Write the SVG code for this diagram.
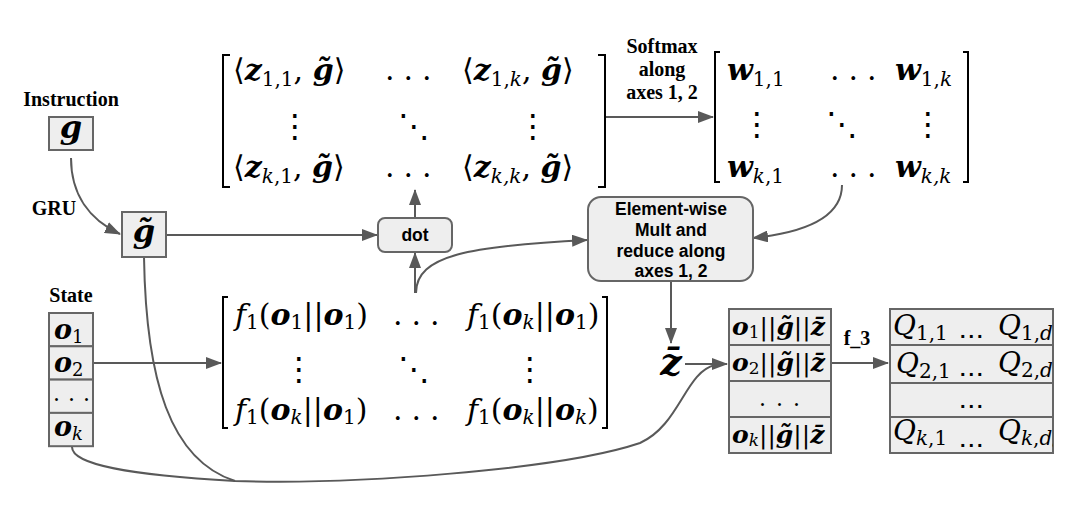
<svg xmlns="http://www.w3.org/2000/svg" width="1088" height="511" viewBox="0 0 1088 511">
<defs>
<marker id="ah" viewBox="0 0 16 12" refX="15" refY="6" markerWidth="16" markerHeight="12" markerUnits="userSpaceOnUse" orient="auto">
<path d="M0,0 L16,6 L0,12 z" fill="#595959"/>
</marker>
<clipPath id="qclip"><rect x="890" y="300" width="163" height="160"/></clipPath>
</defs>
<style>
.lbl{font-family:"Liberation Serif",serif;font-weight:bold;font-size:20px;fill:#000;text-anchor:middle}
.box{fill:#eeeeee;stroke:#666;stroke-width:2}
.bt{font-family:"Liberation Sans",Arial,sans-serif;font-weight:bold;font-size:17.5px;text-anchor:middle;fill:#000}
.m{font-family:"DejaVu Serif",serif;font-size:30px;fill:#000}
.bi{font-weight:bold;font-style:italic}
.it{font-style:italic}
.s{font-size:20px}
.dd{font-family:"DejaVu Sans",sans-serif;font-size:32px;text-anchor:middle}
.ln{fill:none;stroke:#595959;stroke-width:2}
.br{fill:none;stroke:#000;stroke-width:2}
.qd{font-family:"Liberation Sans",sans-serif;font-weight:bold;font-size:20px;letter-spacing:3px}
.cc{font-size:25px}
</style>

<g id="connectors">
<path class="ln" d="M71,158 C71,195 90,220 120,234" marker-end="url(#ah)"/>
<path class="ln" d="M166,235 H377" marker-end="url(#ah)"/>
<path class="ln" d="M415,218 V190" marker-end="url(#ah)"/>
<path class="ln" d="M415,293 V253" marker-end="url(#ah)"/>
<path class="ln" d="M416,293 C416,255 470,246 587,240" marker-end="url(#ah)"/>
<path class="ln" d="M606,117 H713" marker-end="url(#ah)"/>
<path class="ln" d="M842,185 C842,215 810,232 753,238" marker-end="url(#ah)"/>
<path class="ln" d="M671,281 V343" marker-end="url(#ah)"/>
<path class="ln" d="M685,364 H727" marker-end="url(#ah)"/>
<path class="ln" d="M93,363 H221" marker-end="url(#ah)"/>
<path class="ln" d="M831,363 H888" marker-end="url(#ah)"/>
<path class="ln" d="M144,257 C146,380 170,460 235,481 C350,485 560,470 640,443 C680,425 685,372 715,365"/>
<path class="ln" d="M72,447 C72,465 130,475 235,481"/>
</g>

<g id="instruction">
<text class="lbl" x="71" y="106">Instruction</text>
<rect class="box" x="49" y="117" width="44" height="33"/>
<text class="m bi" x="71" y="138" text-anchor="middle" style="font-size:32px">g</text>
</g>

<g id="gru-label">
<text class="lbl" x="54" y="215">GRU</text>
</g>

<g id="gtilde">
<rect class="box" x="122" y="212" width="44" height="45"/>
<text class="m bi" x="144" y="242" text-anchor="middle" style="font-size:32px">g̃</text>
</g>

<g id="state">
<text class="lbl" x="71" y="302">State</text>
<rect class="box" x="49" y="313" width="44" height="33.3"/>
<rect class="box" x="49" y="346.3" width="44" height="33.3"/>
<rect class="box" x="49" y="379.6" width="44" height="33.3"/>
<rect class="box" x="49" y="412.9" width="44" height="33.3"/>
<text class="m" x="54" y="339" style="font-size:27px"><tspan class="bi">o</tspan><tspan font-size="18" dy="4">1</tspan></text>
<text class="m" x="54" y="372" style="font-size:27px"><tspan class="bi">o</tspan><tspan font-size="18" dy="4">2</tspan></text>
<text class="m" x="53" y="401" style="font-size:22px" letter-spacing="8">...</text>
<text class="m" x="54" y="436" style="font-size:27px"><tspan class="bi">o</tspan><tspan class="it" font-size="18" dy="4">k</tspan></text>
</g>

<g id="dot">
<rect class="box" x="378" y="218" width="74" height="34" rx="7"/>
<text class="bt" x="415" y="241">dot</text>
</g>

<g id="elementwise">
<rect class="box" x="588" y="197" width="165" height="84" rx="13"/>
<text class="bt" x="671" y="215">Element-wise</text>
<text class="bt" x="671" y="236">Mult and</text>
<text class="bt" x="671" y="257">reduce along</text>
<text class="bt" x="671" y="277">axes 1, 2</text>
</g>

<g id="softmax-label">
<text class="lbl" x="662" y="53">Softmax</text>
<text class="lbl" x="662" y="76">along</text>
<text class="lbl" x="662" y="99">axes 1, 2</text>
</g>

<g id="matrix-z">
<path class="br" d="M230,55 H223 V187 H230"/>
<path class="br" d="M598,55 H605 V187 H598"/>
<text class="m" x="233" y="80">⟨<tspan class="bi">z</tspan><tspan class="s" dy="6">1,1</tspan><tspan dy="-6">, </tspan><tspan class="bi">g̃</tspan>⟩</text>
<text class="m" x="385" y="80" letter-spacing="9">...</text>
<text class="m" x="462" y="80">⟨<tspan class="bi">z</tspan><tspan class="s" dy="6">1,<tspan class="it">k</tspan></tspan><tspan dy="-6">, </tspan><tspan class="bi">g̃</tspan>⟩</text>
<text class="dd" x="295" y="137">⋮</text>
<text class="dd" x="414" y="137">⋱</text>
<text class="dd" x="533" y="137">⋮</text>
<text class="m" x="233" y="177">⟨<tspan class="bi">z</tspan><tspan class="s" dy="6"><tspan class="it">k</tspan>,1</tspan><tspan dy="-6">, </tspan><tspan class="bi">g̃</tspan>⟩</text>
<text class="m" x="385" y="177" letter-spacing="9">...</text>
<text class="m" x="462" y="177">⟨<tspan class="bi">z</tspan><tspan class="s it" dy="6">k,k</tspan><tspan dy="-6">, </tspan><tspan class="bi">g̃</tspan>⟩</text>
</g>

<g id="matrix-w">
<path class="br" d="M720,52 H715 V182 H720"/>
<path class="br" d="M963,52 H968 V182 H963"/>
<text class="m" x="727" y="80"><tspan class="bi">w</tspan><tspan class="s" dy="6">1,1</tspan></text>
<text class="m" x="830" y="80" letter-spacing="9">...</text>
<text class="m" x="895" y="80"><tspan class="bi">w</tspan><tspan class="s" dy="6">1,<tspan class="it">k</tspan></tspan></text>
<text class="dd" x="757" y="135">⋮</text>
<text class="dd" x="842" y="135">⋱</text>
<text class="dd" x="928" y="135">⋮</text>
<text class="m" x="727" y="177"><tspan class="bi">w</tspan><tspan class="s" dy="6"><tspan class="it">k</tspan>,1</tspan></text>
<text class="m" x="830" y="177" letter-spacing="9">...</text>
<text class="m" x="895" y="177"><tspan class="bi">w</tspan><tspan class="s it" dy="6">k,k</tspan></text>
</g>

<g id="matrix-f">
<path class="br" d="M228,297 H223 V428 H228"/>
<path class="br" d="M602,297 H607 V428 H602"/>
<text class="m" x="235" y="325"><tspan class="it">f</tspan><tspan class="s" dy="4">1</tspan><tspan dy="-4">(</tspan><tspan class="bi">o</tspan><tspan class="s" dy="4">1</tspan><tspan dy="-4">||</tspan><tspan class="bi">o</tspan><tspan class="s" dy="4">1</tspan><tspan dy="-4">)</tspan></text>
<text class="m" x="393" y="325" letter-spacing="9">...</text>
<text class="m" x="467" y="325"><tspan class="it">f</tspan><tspan class="s" dy="4">1</tspan><tspan dy="-4">(</tspan><tspan class="bi">o</tspan><tspan class="s it" dy="4">k</tspan><tspan dy="-4">||</tspan><tspan class="bi">o</tspan><tspan class="s" dy="4">1</tspan><tspan dy="-4">)</tspan></text>
<text class="dd" x="299" y="380">⋮</text>
<text class="dd" x="414" y="380">⋱</text>
<text class="dd" x="530" y="380">⋮</text>
<text class="m" x="235" y="420"><tspan class="it">f</tspan><tspan class="s" dy="4">1</tspan><tspan dy="-4">(</tspan><tspan class="bi">o</tspan><tspan class="s it" dy="4">k</tspan><tspan dy="-4">||</tspan><tspan class="bi">o</tspan><tspan class="s" dy="4">1</tspan><tspan dy="-4">)</tspan></text>
<text class="m" x="393" y="420" letter-spacing="9">...</text>
<text class="m" x="467" y="420"><tspan class="it">f</tspan><tspan class="s" dy="4">1</tspan><tspan dy="-4">(</tspan><tspan class="bi">o</tspan><tspan class="s it" dy="4">k</tspan><tspan dy="-4">||</tspan><tspan class="bi">o</tspan><tspan class="s it" dy="4">k</tspan><tspan dy="-4">)</tspan></text>
</g>

<g id="zbar">
<text class="m bi" x="671" y="375" text-anchor="middle" style="font-size:38px">z̄</text>
</g>

<g id="concat">
<rect class="box" x="729" y="309" width="102" height="36"/>
<rect class="box" x="729" y="345" width="102" height="36"/>
<rect class="box" x="729" y="381" width="102" height="36"/>
<rect class="box" x="729" y="417" width="102" height="36"/>
<text class="m cc" x="732" y="335"><tspan class="bi">o</tspan><tspan font-size="17" dy="3">1</tspan><tspan dy="-3">||</tspan><tspan class="bi">g̃</tspan>||<tspan class="bi">z̄</tspan></text>
<text class="m cc" x="732" y="371"><tspan class="bi">o</tspan><tspan font-size="17" dy="3">2</tspan><tspan dy="-3">||</tspan><tspan class="bi">g̃</tspan>||<tspan class="bi">z̄</tspan></text>
<text class="m" x="759" y="406" style="font-size:22px" letter-spacing="10">...</text>
<text class="m cc" x="732" y="443"><tspan class="bi">o</tspan><tspan class="it" font-size="17" dy="3">k</tspan><tspan dy="-3">||</tspan><tspan class="bi">g̃</tspan>||<tspan class="bi">z̄</tspan></text>
</g>

<g id="f3-label">
<text class="lbl" x="857" y="345">f_3</text>
</g>

<g id="qvalues">
<rect class="box" x="890" y="309" width="163" height="36"/>
<rect class="box" x="890" y="345" width="163" height="38"/>
<rect class="box" x="890" y="383" width="163" height="34"/>
<rect class="box" x="890" y="417" width="163" height="36"/>
<g clip-path="url(#qclip)">
<text class="m it" x="893" y="335" style="font-size:28px">Q<tspan class="s" font-style="normal" dy="5">1,1</tspan></text>
<text class="qd" x="960" y="338">...</text>
<text class="m it" x="998" y="335" style="font-size:28px">Q<tspan class="s" font-style="normal" dy="5">1,<tspan class="it">d</tspan><tspan class="it" font-size="13" dy="3">α</tspan></tspan></text>
<text class="m it" x="896" y="373" style="font-size:28px">Q<tspan class="s" font-style="normal" dy="5">2,1</tspan></text>
<text class="qd" x="960" y="376">...</text>
<text class="m it" x="998" y="372" style="font-size:28px">Q<tspan class="s" font-style="normal" dy="5">2,<tspan class="it">d</tspan><tspan class="it" font-size="13" dy="3">α</tspan></tspan></text>
<text class="qd" x="960" y="408">...</text>
<text class="m it" x="893" y="440" style="font-size:28px">Q<tspan class="s" dy="5">k<tspan font-style="normal">,1</tspan></tspan></text>
<text class="qd" x="960" y="447">...</text>
<text class="m it" x="998" y="440" style="font-size:28px">Q<tspan class="s" dy="5">k<tspan font-style="normal">,</tspan>d<tspan font-size="13" dy="3">α</tspan></tspan></text>
</g>
</g>
</svg>
